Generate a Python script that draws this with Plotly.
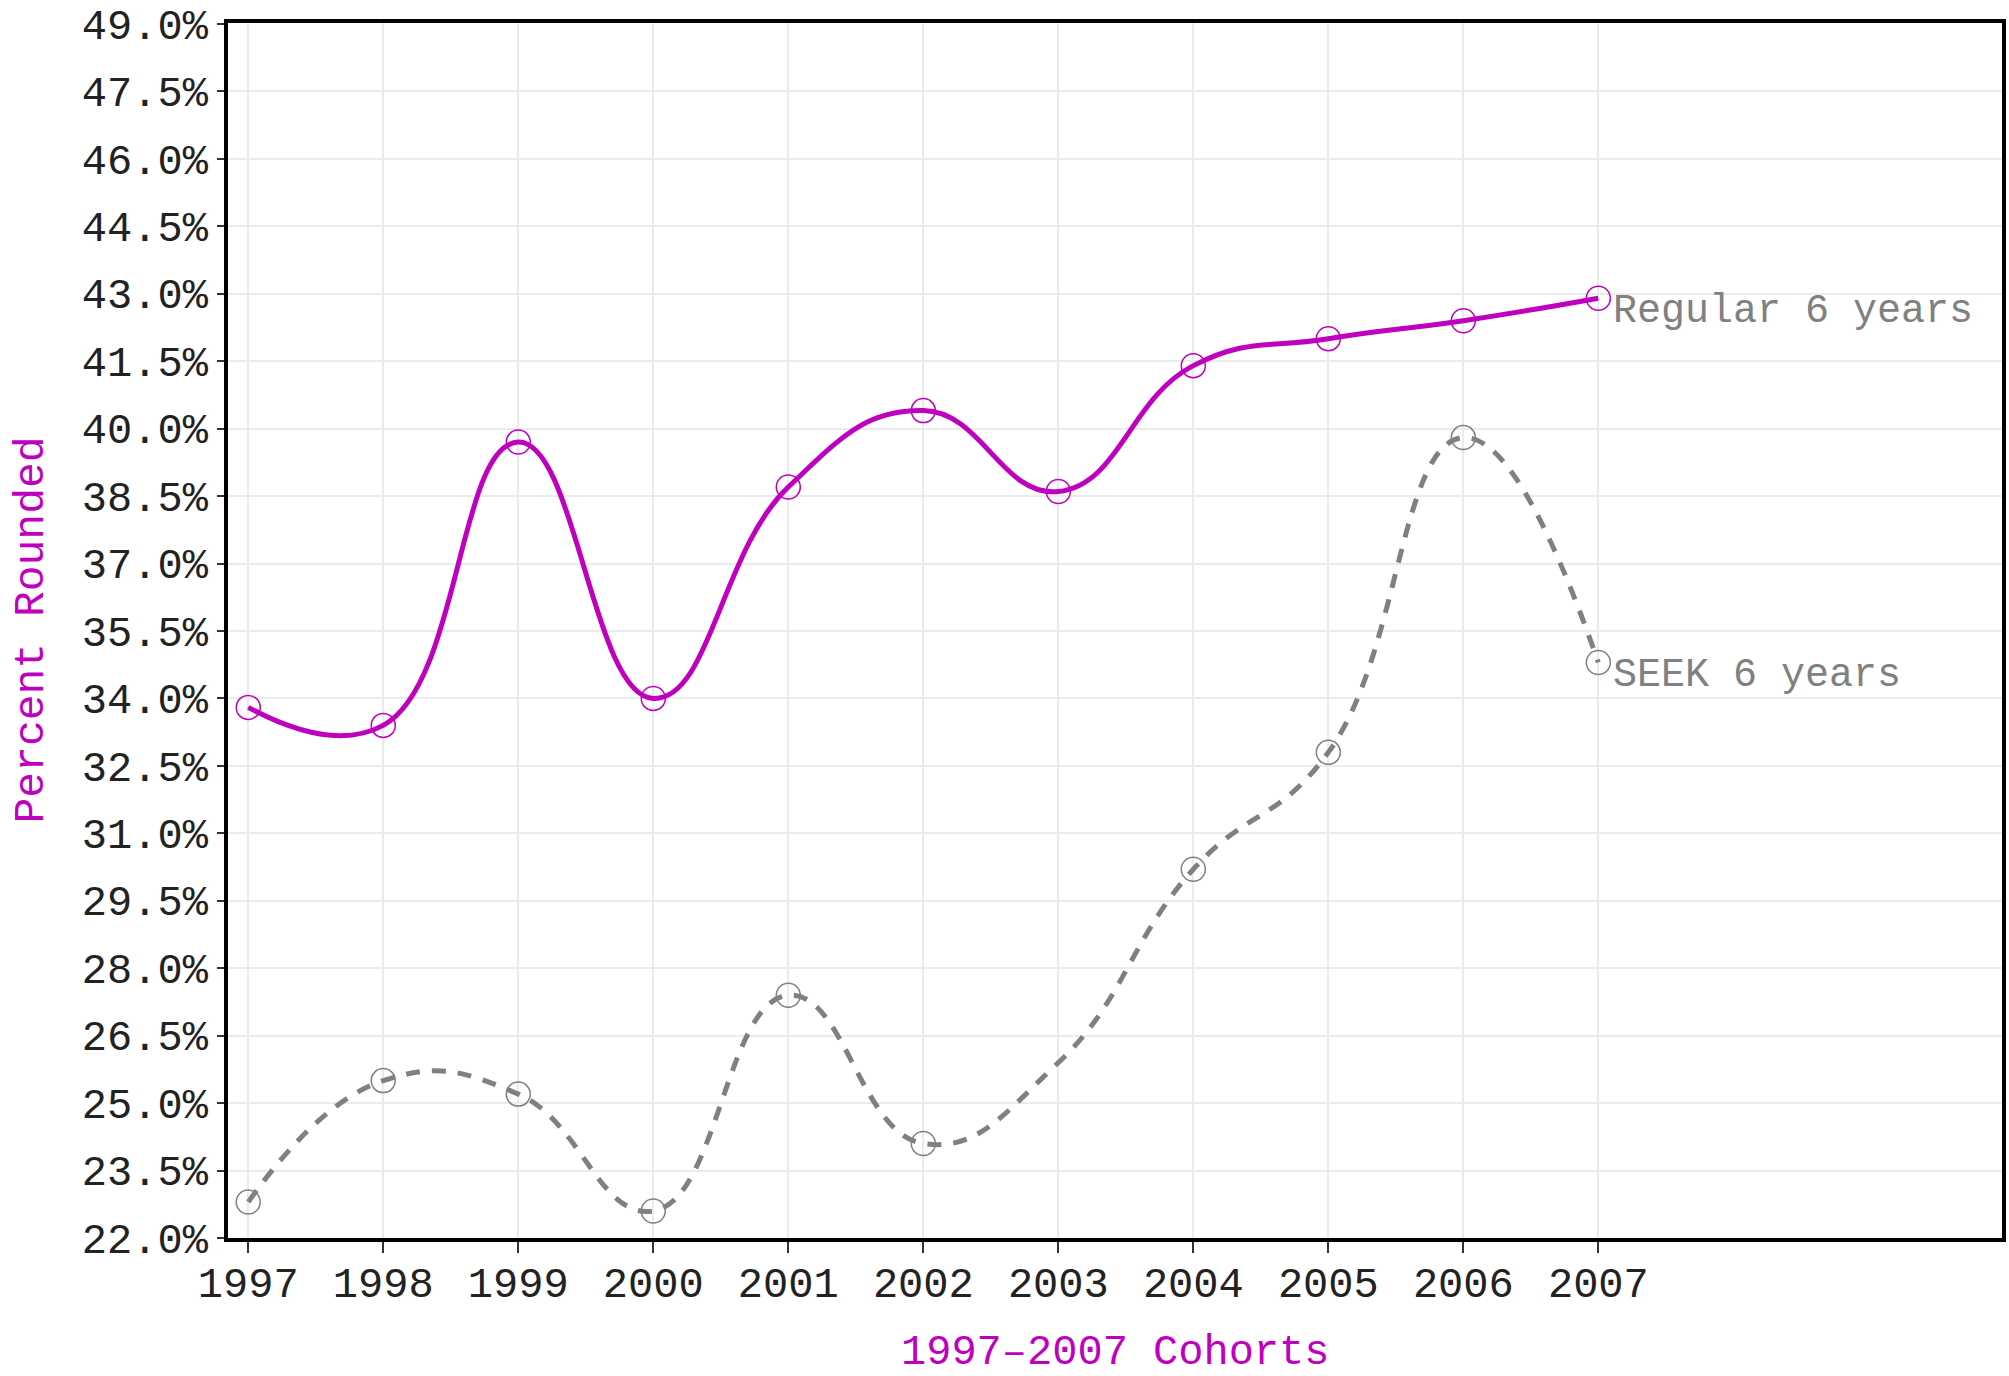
import plotly.graph_objects as go

years = [1997, 1998, 1999, 2000, 2001, 2002, 2003, 2004, 2005, 2006, 2007]
regular_6yr = [33.8, 33.4, 39.7, 34.0, 38.7, 40.4, 38.6, 41.4, 42.0, 42.4, 42.9]
seek_6yr = [22.8, 25.5, 25.2, 22.6, 27.4, 24.1, 25.9, 30.2, 32.8, 39.8, 34.8]
seek_unmarked_years = [2003]

y_ticks = [22.0 + 1.5 * i for i in range(19)]
x_ticks = years

MAGENTA = "#BF00BF"
GRAY = "#808080"
FONT = "Liberation Mono"

fig = go.Figure()

fig.add_trace(go.Scatter(
    x=years, y=regular_6yr, mode="lines",
    line=dict(color=MAGENTA, width=5, shape="spline", smoothing=1.3),
    showlegend=False, hoverinfo="skip"))
fig.add_trace(go.Scatter(
    x=years, y=regular_6yr, mode="markers",
    marker=dict(symbol="circle-open", size=24, color=MAGENTA, line=dict(width=1.5, color=MAGENTA)),
    showlegend=False))

fig.add_trace(go.Scatter(
    x=years, y=seek_6yr, mode="lines",
    line=dict(color=GRAY, width=5, dash="14px,12px", shape="spline", smoothing=1.3),
    showlegend=False, hoverinfo="skip"))
mk_x = [x for x in years if x not in seek_unmarked_years]
mk_y = [v for x, v in zip(years, seek_6yr) if x not in seek_unmarked_years]
fig.add_trace(go.Scatter(
    x=mk_x, y=mk_y, mode="markers",
    marker=dict(symbol="circle-open", size=24, color=GRAY, line=dict(width=1.5, color=GRAY)),
    showlegend=False))

fig.add_annotation(x=years[-1], y=regular_6yr[-1], text="Regular 6 years",
                   xanchor="left", yanchor="middle", xshift=13, yshift=-13,
                   showarrow=False, font=dict(family=FONT, size=40, color=GRAY))
fig.add_annotation(x=years[-1], y=seek_6yr[-1], text="SEEK 6 years",
                   xanchor="left", yanchor="middle", xshift=13, yshift=-13,
                   showarrow=False, font=dict(family=FONT, size=40, color=GRAY))

# axis titles as annotations for exact placement
fig.add_annotation(x=0, y=0.5, xref="paper", yref="paper", text="Percent Rounded",
                   textangle=-90, xanchor="center", yanchor="middle", xshift=-197,
                   showarrow=False, font=dict(family=FONT, size=43, color=MAGENTA))
fig.add_annotation(x=0.5, y=0, xref="paper", yref="paper", text="1997\u20132007 Cohorts",
                   xanchor="center", yanchor="middle", yshift=-115,
                   showarrow=False, font=dict(family=FONT, size=42, color=MAGENTA))

fig.update_layout(
    width=2009, height=1376,
    margin=dict(l=228, r=7, t=23, b=138, autoexpand=False),
    paper_bgcolor="white", plot_bgcolor="white",
    font=dict(family=FONT, size=42, color="#222222"),
)

fig.update_xaxes(
    range=[1996.85, 2009.99], tickvals=x_ticks, ticktext=[str(v) for v in x_ticks],
    showgrid=True, gridcolor="#EBEBEB", gridwidth=1.5, zeroline=False,
    showline=True, linecolor="black", linewidth=3.5, mirror=True,
    ticks="outside", ticklen=11, tickwidth=2, tickcolor="#333333",
    ticklabelstandoff=-6, automargin=False,
    tickfont=dict(family=FONT, size=42, color="#222222"),
)
fig.update_yaxes(
    range=[22.0, 49.02], tickvals=y_ticks, ticktext=[f"{v:.1f}%" for v in y_ticks],
    showgrid=True, gridcolor="#EBEBEB", gridwidth=1.5, zeroline=False,
    showline=True, linecolor="black", linewidth=3.5, mirror=True,
    ticks="outside", ticklen=7, tickwidth=2, tickcolor="#333333",
    ticklabelstandoff=1, automargin=False,
    tickfont=dict(family=FONT, size=42, color="#222222"),
)

fig.write_html("out.html", config={"displayModeBar": False},
               post_script="document.body.style.margin='0px';")
